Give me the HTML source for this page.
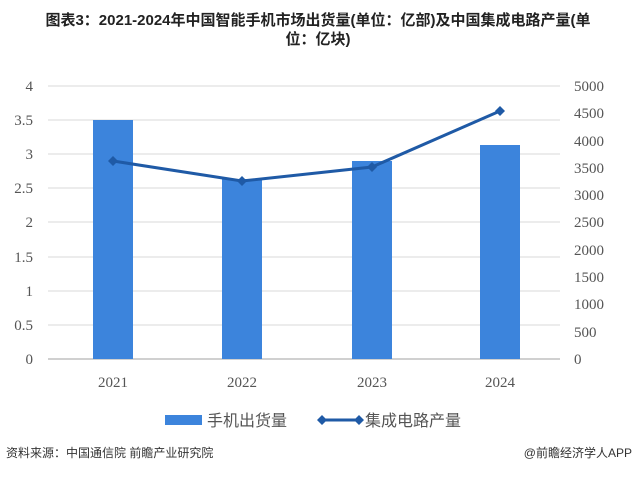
<!DOCTYPE html>
<html><head><meta charset="utf-8"><style>
body{margin:0;width:636px;height:473px;background:#fff;overflow:hidden;font-family:"Liberation Sans","Noto Sans CJK SC",sans-serif}
</style></head><body>
<svg width="636" height="473" xmlns="http://www.w3.org/2000/svg">
<text x="318" y="25" text-anchor="middle" font-size="15" font-weight="bold" fill="#222" font-family="Liberation Sans,Noto Sans CJK SC,sans-serif">图表3：2021-2024年中国智能手机市场出货量(单位：亿部)及中国集成电路产量(单</text>
<text x="318" y="44" text-anchor="middle" font-size="15" font-weight="bold" fill="#222" font-family="Liberation Sans,Noto Sans CJK SC,sans-serif">位：亿块)</text>
<g stroke="#d9d9d9" stroke-width="1">
<line x1="48" x2="560" y1="86" y2="86"/><line x1="48" x2="560" y1="120" y2="120"/><line x1="48" x2="560" y1="154" y2="154"/><line x1="48" x2="560" y1="188" y2="188"/><line x1="48" x2="560" y1="222" y2="222"/><line x1="48" x2="560" y1="257" y2="257"/><line x1="48" x2="560" y1="291" y2="291"/><line x1="48" x2="560" y1="325" y2="325"/>
</g>
<line x1="48" x2="560" y1="359" y2="359" stroke="#d0d0d0" stroke-width="2"/>
<g font-family="Liberation Serif,serif" font-size="15" fill="#555">
<g text-anchor="end"><text x="33" y="91">4</text><text x="33" y="125">3.5</text><text x="33" y="159">3</text><text x="33" y="193">2.5</text><text x="33" y="227">2</text><text x="33" y="262">1.5</text><text x="33" y="296">1</text><text x="33" y="330">0.5</text><text x="33" y="364">0</text></g>
<g text-anchor="start"><text x="574" y="91">5000</text><text x="574" y="118">4500</text><text x="574" y="146">4000</text><text x="574" y="173">3500</text><text x="574" y="200">3000</text><text x="574" y="227">2500</text><text x="574" y="255">2000</text><text x="574" y="282">1500</text><text x="574" y="309">1000</text><text x="574" y="337">500</text><text x="574" y="364">0</text></g>
<g text-anchor="middle"><text x="113" y="387">2021</text><text x="242" y="387">2022</text><text x="372" y="387">2023</text><text x="500" y="387">2024</text></g>
</g>
<g fill="#3c84dc">
<rect x="93" y="120" width="40" height="239"/><rect x="222" y="179" width="40" height="180"/><rect x="352" y="161" width="40" height="198"/><rect x="480" y="145" width="40" height="214"/>
</g>
<polyline points="113,161 242,181 372,167 500,111" fill="none" stroke="#1f5aa6" stroke-width="3"/>
<g fill="#1f5aa6">
<path d="M113,156 l5,5 -5,5 -5,-5z"/><path d="M242,176 l5,5 -5,5 -5,-5z"/><path d="M372,162 l5,5 -5,5 -5,-5z"/><path d="M500,106 l5,5 -5,5 -5,-5z"/>
</g>
<rect x="165" y="415" width="37" height="10" fill="#3c84dc"/>
<text x="207" y="426" font-size="16" fill="#555">手机出货量</text>
<line x1="322" x2="359" y1="420" y2="420" stroke="#1f5aa6" stroke-width="3"/>
<path d="M322,415 l5,5 -5,5 -5,-5z M359,415 l5,5 -5,5 -5,-5z" fill="#1f5aa6"/>
<text x="365" y="426" font-size="16" fill="#555">集成电路产量</text>
<text x="6" y="457" font-size="12" fill="#333">资料来源：中国通信院 前瞻产业研究院</text>
<text x="632" y="457" font-size="12" fill="#333" text-anchor="end">@前瞻经济学人APP</text>
</svg>
</body></html>
